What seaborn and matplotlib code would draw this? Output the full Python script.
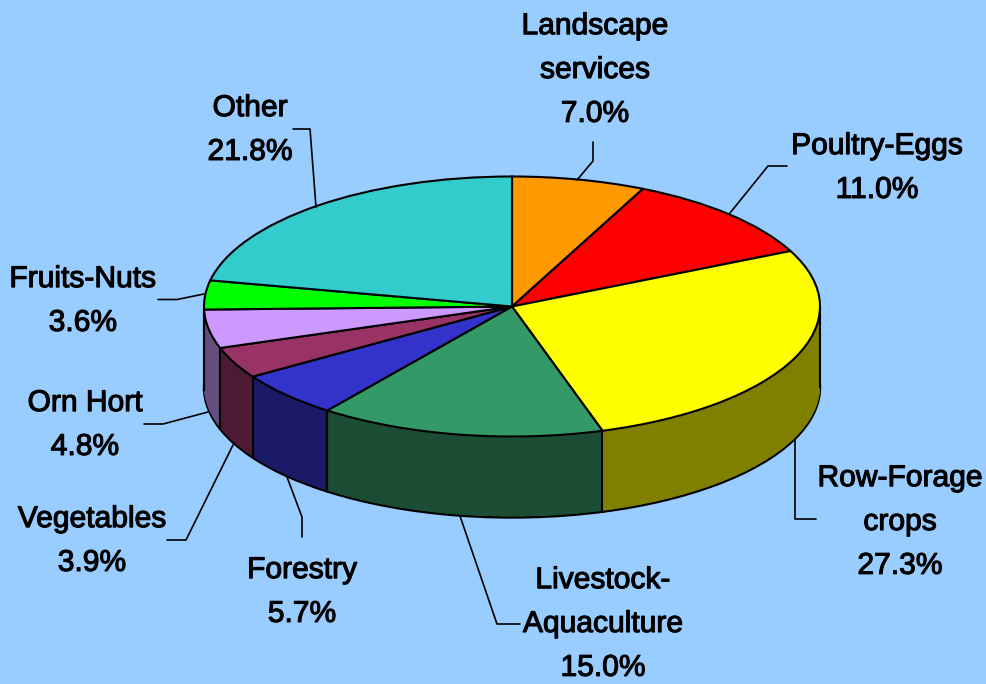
import numpy as np
import seaborn as sns
import matplotlib.patheffects as pe

from matplotlib import pyplot as plt
from matplotlib.colors import to_rgb

NAMES = ['Landscape\nservices', 'Poultry-Eggs', 'Row-Forage\ncrops', 'Livestock-\nAquaculture',
         'Forestry', 'Vegetables', 'Orn Hort', 'Fruits-Nuts', 'Other']
SHARES = [7.0, 11.0, 27.3, 15.0, 5.7, 3.9, 4.8, 3.6, 21.8]
COLORS = ['#FF9900', '#FF0000', '#FFFF00', '#339966', '#3333CC',
          '#993366', '#CC99FF', '#00FF00', '#33CCCC']

BG = '#99CCFF'

# pie geometry in picture pixels
CX, CY = 512.0, 306.5
RX, RY = 308.0, 130.0
DEPTH = 81

# label centres and leader lines in picture pixels
LABEL_POS = [(595, 70), (877, 168), (900, 522), (603, 624), (302, 592),
             (92, 541), (85, 425), (83, 301), (250, 130)]
LEADERS = [[(593, 142), (593, 161), (577, 180)],
           [(787, 166), (768, 166), (730, 213)],
           [(795, 440), (795, 519), (816, 519)],
           [(460, 516), (497, 624), (520, 624)],
           [(287, 477), (302, 517), (302, 537)],
           [(233, 445), (186, 540), (167, 540)],
           [(208, 412), (163, 424), (144, 424)],
           [(204, 294), (177, 299.5), (158, 299.5)],
           [(316, 207), (310, 129), (293, 129)]]


def main():
    sns.set_theme(style='white')
    plt.rcParams['font.family'] = ['Liberation Sans', 'DejaVu Sans']

    fig = plt.figure(figsize=(9.86, 6.84), dpi=100, facecolor=BG)
    ax = fig.add_axes([0, 0, 1, 1])

    top_colors = sns.color_palette(COLORS)
    side_colors = [tuple(np.array(to_rgb(c)) * 0.5) for c in COLORS]
    drop = DEPTH / RY

    # side of the pie: stacked flat pies from the bottom rim up
    pie_args = dict(startangle=90, counterclock=False)
    ax.pie(SHARES, colors=side_colors, center=(0, -drop),
           wedgeprops=dict(edgecolor='black', linewidth=1.7), **pie_args)
    for step in range(DEPTH - 1, 0, -1):
        ax.pie(SHARES, colors=side_colors, center=(0, -step / RY),
               wedgeprops=dict(linewidth=0), **pie_args)

    wedges, _ = ax.pie(SHARES, colors=top_colors,
                       wedgeprops=dict(edgecolor='black', linewidth=1.5), **pie_args)

    # vertical edges where slices meet on the front, plus both silhouette sides
    angles = [w.theta1 for w in wedges] + [180, 360]
    for angle in angles:
        rad = np.deg2rad(angle)
        if np.sin(rad) < 0.01:
            x = np.cos(rad)
            y = np.sin(rad)
            ax.plot([x, x], [y, y - drop], color='black', lw=1.5, solid_capstyle='butt')

    ax.set_aspect('auto')
    ax.set_xlim(-CX / RX, (986 - CX) / RX)
    ax.set_ylim((CY - 684) / RY, CY / RY)

    # labels and leader lines in pixel coordinates
    ax_px = fig.add_axes([0, 0, 1, 1])
    ax_px.set_xlim(0, 986)
    ax_px.set_ylim(684, 0)
    ax_px.axis('off')

    for name, share, pos, leader in zip(NAMES, SHARES, LABEL_POS, LEADERS):
        ax_px.plot(*zip(*leader), color='black', lw=1.2)
        ax_px.text(pos[0], pos[1], f'{name}\n{share:.1f}%', ha='center', va='center',
                   fontsize=21.6, color='black', linespacing=1.72,
                   path_effects=[pe.withStroke(linewidth=0.8, foreground='black')])

    fig.savefig('out.png', dpi=100, facecolor=BG)


if __name__ == '__main__':
    main()
